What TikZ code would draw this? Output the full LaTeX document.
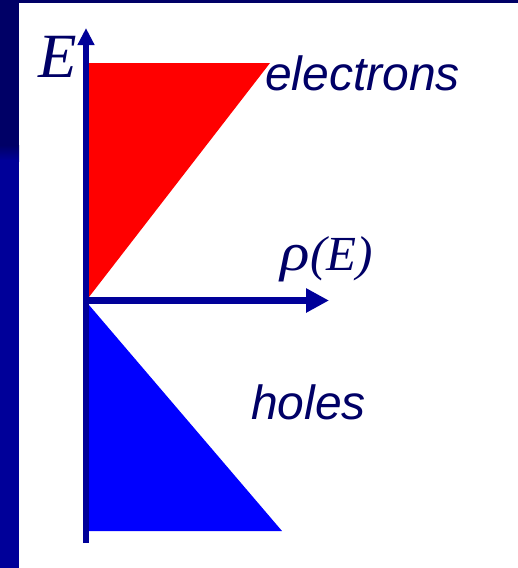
\documentclass[tikz,border=0pt]{standalone}
\usepackage{fontspec}
\setmainfont{Liberation Serif}
\setsansfont{Liberation Sans}
\usetikzlibrary{arrows.meta}

\begin{document}
\begin{tikzpicture}[x=1pt,y=-1pt]
  \definecolor{slidenavy}{HTML}{000066}
  \definecolor{slideband}{HTML}{000099}
  \definecolor{axisblue}{HTML}{000099}
  \definecolor{bandred}{HTML}{FF0000}
  \definecolor{bandblue}{HTML}{0000FF}
  \definecolor{labeltext}{HTML}{000066}
  \path[use as bounding box] (0,0) rectangle (518,568);
  % slide frame
  \fill[slidenavy] (0,0) rectangle (518,3);
  \fill[slidenavy] (0,0) rectangle (19,146);
  \shade[top color=slidenavy,bottom color=slideband] (0,145) rectangle (19,161);
  \fill[slideband] (0,160) rectangle (19,568);
  % bands
  \fill[bandred] (89,63) -- (270,63) -- (89,297) -- cycle;
  \fill[bandblue] (89,305) -- (89,531) -- (282,531) -- cycle;
  % axes
  \coordinate (ebottom) at (86,543);
  \coordinate (etop) at (86,28);
  \coordinate (origin) at (86,300.5);
  \coordinate (rhoend) at (329,300.5);
  \draw[axisblue,line width=6.5pt,-{Triangle[length=17pt,width=16pt]}] (ebottom) -- (etop);
  \draw[axisblue,line width=7pt,-{Triangle[length=23pt,width=23pt]}] (origin) -- (rhoend);
  % labels
  \node[anchor=base west,inner sep=0pt,text=labeltext,font=\fontsize{63}{63}\selectfont\itshape] (elabel) at (38,77) {E};
  \node[anchor=base west,inner sep=0pt,text=labeltext,font=\fontsize{49}{49}\selectfont\itshape] (rholabel) at (280,270) {\scalebox{1.25}[1.1]{ρ}\kern1pt(E)};
  \node[anchor=base west,inner sep=0pt,text=labeltext,font=\sffamily\fontsize{48}{48}\selectfont\itshape] (electrons) at (265,90) {electrons};
  \node[anchor=base west,inner sep=0pt,text=labeltext,font=\sffamily\fontsize{48}{48}\selectfont\itshape] (holes) at (251,419) {holes};
\end{tikzpicture}
\end{document}
